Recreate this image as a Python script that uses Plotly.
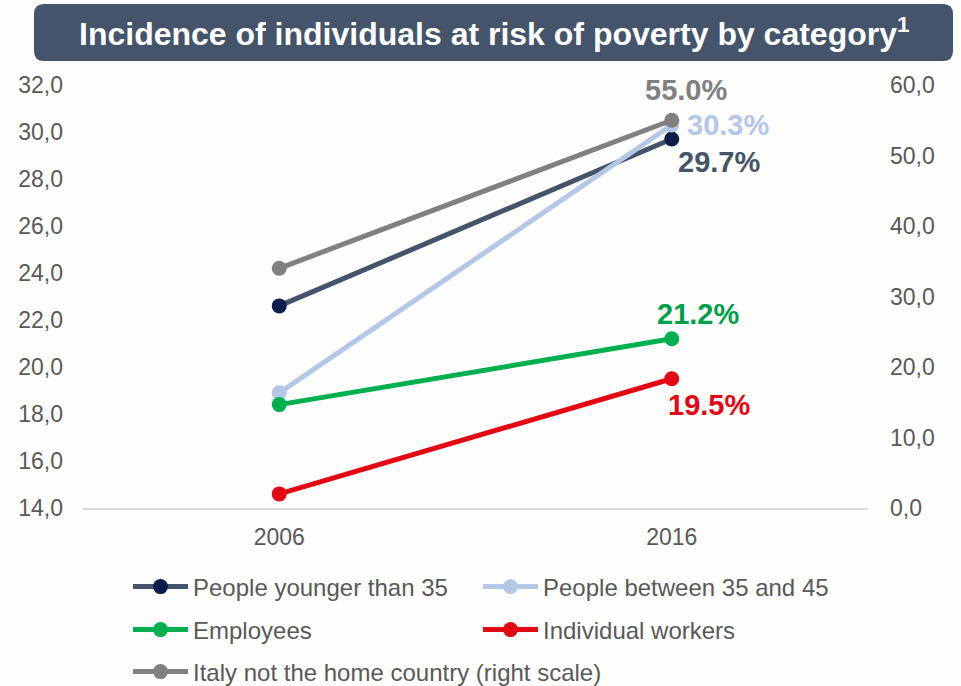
import plotly.graph_objects as go

years = ["2006", "2016"]
younger_35 = [22.6, 29.7]
between_35_45 = [18.9, 30.3]
employees = [18.4, 21.2]
individual_workers = [14.6, 19.5]
italy_not_home = [34.0, 55.0]  # right scale

names = ["People younger than 35", "People between 35 and 45", "Employees",
         "Individual workers", "Italy not the home country (right scale)"]
left_ticks = [14, 16, 18, 20, 22, 24, 26, 28, 30, 32]
right_ticks = [0, 10, 20, 30, 40, 50, 60]

W, H = 961, 686
ML, MR, MT, MB = 83, 93, 85, 178
PW, PH = W - ML - MR, H - MT - MB


def px(x):
    return (x - ML) / PW


def py(y):
    return (H - MB - y) / PH


FONT = "Liberation Sans, Arial, sans-serif"
TXT = "#595959"

fig = go.Figure()

series = [
    (younger_35, "#44546A", "#0B1D4B", "y", "legend"),
    (between_35_45, "#B4C7E7", "#B4C7E7", "y", "legend"),
    (employees, "#00B050", "#00B050", "y", "legend2"),
    (individual_workers, "#E30613", "#E30613", "y", "legend2"),
    (italy_not_home, "#808080", "#808080", "y2", "legend3"),
]
for (vals, lc, mc, ax, lg), nm in zip(series, names):
    fig.add_trace(go.Scatter(
        x=years, y=vals, name=nm, yaxis=ax, legend=lg,
        mode="lines+markers",
        line=dict(color=lc, width=5),
        marker=dict(color=mc, size=15),
        hoverinfo="skip",
    ))

# data labels (x given as category index of 2016)
labels = [
    (italy_not_home[1], "y2", "#808080", 14, 30),
    (between_35_45[1], "y", "#B4C7E7", 56, 0),
    (younger_35[1], "y", "#44546A", 47, -23),
    (employees[1], "y", "#00A04A", 26, 25),
    (individual_workers[1], "y", "#E30613", 37, -26),
]
for v, ax, col, xs, ys in labels:
    fig.add_annotation(
        x=years.index("2016"), y=v, xref="x", yref=ax, text=f"{v:.1f}%", showarrow=False,
        xshift=xs, yshift=ys, font=dict(family=FONT, size=29, color=col, weight="bold"),
    )

# title box
x0, x1, y0, y1, r = 34, 953, 4, 61, 10
path = (f"M {px(x0 + r)},{py(y0)} L {px(x1 - r)},{py(y0)} "
        f"Q {px(x1)},{py(y0)} {px(x1)},{py(y0 + r)} "
        f"L {px(x1)},{py(y1 - r)} Q {px(x1)},{py(y1)} {px(x1 - r)},{py(y1)} "
        f"L {px(x0 + r)},{py(y1)} Q {px(x0)},{py(y1)} {px(x0)},{py(y1 - r)} "
        f"L {px(x0)},{py(y0 + r)} Q {px(x0)},{py(y0)} {px(x0 + r)},{py(y0)} Z")
fig.add_shape(type="path", path=path, xref="paper", yref="paper",
              fillcolor="#44546A", line=dict(width=0), layer="above")
fig.add_annotation(
    x=px((x0 + x1) / 2), y=py((y0 + y1) / 2 - 1), xref="paper", yref="paper",
    text="Incidence of individuals at risk of poverty by category<sup>1</sup>",
    showarrow=False, xanchor="center", yanchor="middle",
    font=dict(family=FONT, size=32, color="white", weight="bold"),
)

leg_common = dict(orientation="h", xanchor="left", yanchor="middle",
                  font=dict(family=FONT, size=24, color=TXT),
                  bgcolor="rgba(0,0,0,0)", itemwidth=55,
                  itemclick=False, itemdoubleclick=False)

fig.update_layout(
    width=W, height=H,
    margin=dict(l=ML, r=MR, t=MT, b=MB, autoexpand=False),
    paper_bgcolor="#FDFDFC", plot_bgcolor="#FDFDFC",
    separators=", ",
    font=dict(family=FONT, size=23, color=TXT),
    showlegend=True,
    legend=dict(x=px(128), y=py(587), entrywidth=280, **leg_common),
    legend2=dict(x=px(128), y=py(630), entrywidth=280, **leg_common),
    legend3=dict(x=px(128), y=py(672), entrywidth=480, **leg_common),
    xaxis=dict(type="category", range=[-0.5, 1.5], showgrid=False, zeroline=False,
               showline=True, linecolor="#D9D9D9", linewidth=1.5, ticks="",
               tickfont=dict(size=23, color=TXT), ticklabelstandoff=8),
    yaxis=dict(range=[14, 32], tickvals=left_ticks, tickformat=".1f", showgrid=False,
               zeroline=False, showline=False, tickfont=dict(size=23, color=TXT),
               ticklabelstandoff=19),
    yaxis2=dict(range=[0, 60], tickvals=right_ticks, tickformat=".1f", overlaying="y",
                side="right", showgrid=False, zeroline=False, showline=False,
                tickfont=dict(size=23, color=TXT), ticklabelstandoff=21),
)

fig.write_html("out.html")
